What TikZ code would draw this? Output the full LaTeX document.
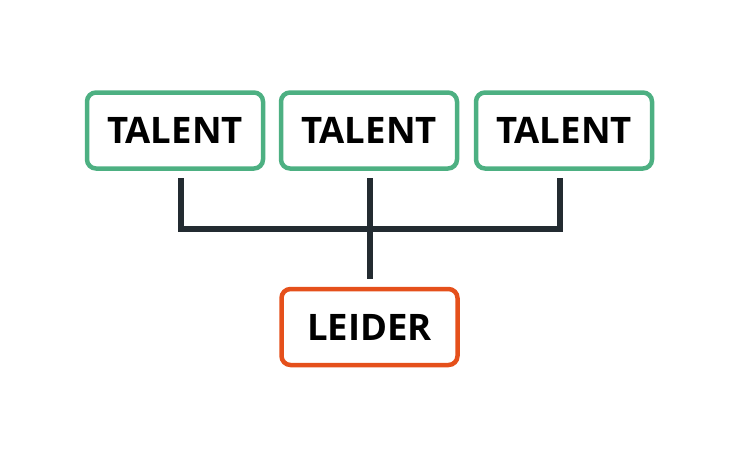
\documentclass[tikz,border=0pt]{standalone}
\usepackage{fontspec}
\setmainfont{Open Sans}
\definecolor{tgreen}{HTML}{4DB082}
\definecolor{lorange}{HTML}{E5501B}
\definecolor{conn}{HTML}{232B31}
\begin{document}
\begin{tikzpicture}[x=1pt,y=-1pt,
  box/.style={draw=#1,line width=4.5pt,rounded corners=9pt,minimum width=176pt,minimum height=76pt,inner sep=0pt,font=\fontsize{36.5}{40}\selectfont\bfseries},
  link/.style={draw=conn,line width=6pt}]
\useasboundingbox (0,0) rectangle (740,458);
\node[box=tgreen] (t1) at (175,130.5) {TALENT};
\node[box=tgreen] (t2) at (369,130.5) {TALENT};
\node[box=tgreen] (t3) at (564,130.5) {TALENT};
\node[box=lorange] (l) at (369.5,327) {LEIDER};
\coordinate (a1) at (181,178); \coordinate (b1) at (181,232);
\coordinate (a2) at (370,178); \coordinate (b2) at (370,279);
\coordinate (a3) at (560,178); \coordinate (b3) at (560,232);
\coordinate (h1) at (181,229); \coordinate (h2) at (560,229);
\draw[link] (a1) -- (b1);
\draw[link] (a2) -- (b2);
\draw[link] (a3) -- (b3);
\draw[link] (h1) -- (h2);
\end{tikzpicture}
\end{document}
